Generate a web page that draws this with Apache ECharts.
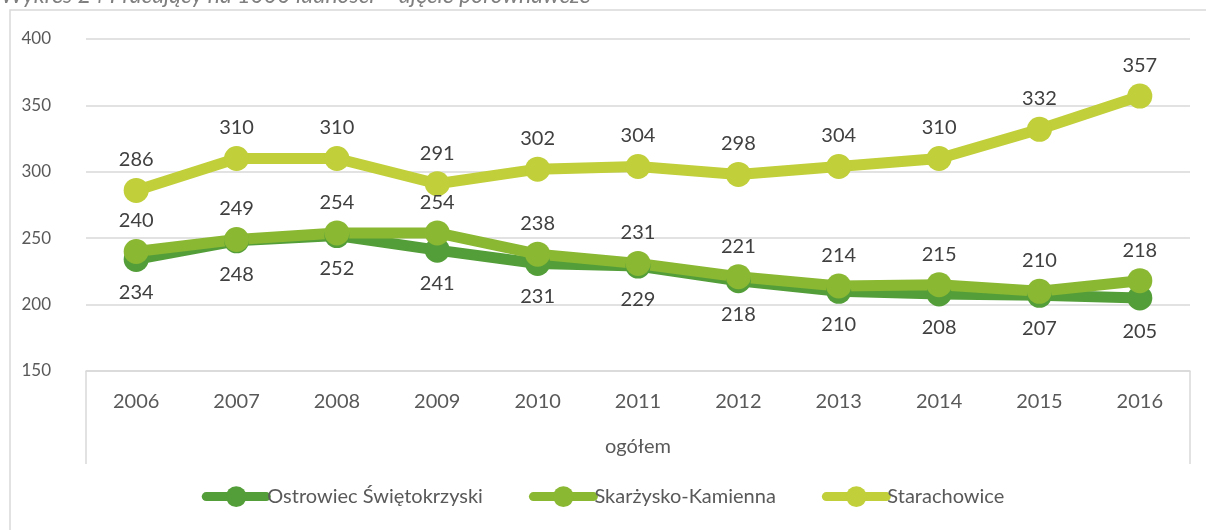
<!DOCTYPE html>
<html>
<head>
<meta charset="utf-8">
<script src="https://cdn.jsdelivr.net/npm/echarts@6/dist/echarts.min.js"></script>
<style>
  html, body { margin: 0; padding: 0; background: #fff; }
  #chart { width: 1206px; height: 530px; }
</style>
</head>
<body>
<div id="chart"></div>
<script>
const years = ['2006', '2007', '2008', '2009', '2010', '2011', '2012', '2013', '2014', '2015', '2016']
const groupLabel = ['ogółem']
const ostrowiec = [234, 248, 252, 241, 231, 229, 218, 210, 208, 207, 205]
const skarzysko = [240, 249, 254, 254, 238, 231, 221, 214, 215, 210, 218]
const starachowice = [286, 310, 310, 291, 302, 304, 298, 304, 310, 332, 357]

const font = 'Lato, "Open Sans", sans-serif'
const textColor = '#404040'
const gridColor = '#d9d9d9'

const makeSeries = (name, data, color, labelPos, dist) => ({
  name,
  type: 'line',
  data,
  xAxisIndex: 0,
  symbol: 'circle',
  symbolSize: 25,
  lineStyle: { width: 11, color, cap: 'round', join: 'round' },
  itemStyle: { color },
  label: {
    show: true,
    position: labelPos,
    distance: dist,
    color: textColor,
    fontFamily: font,
    fontSize: 20
  },
  emphasis: { disabled: true },
  animation: false
})

const chart = echarts.init(document.getElementById('chart'))
const option = {
  animation: false,
  graphic: [
    {
      type: 'rect',
      shape: { x: 10, y: 10, width: 1300, height: 600 },
      style: { fill: 'none', stroke: gridColor, lineWidth: 1.5 },
      silent: true
    },
    {
      type: 'text',
      left: 1,
      top: -16,
      style: {
        text: 'Wykres 24 Pracujący na 1000 ludności – ujęcie porównawcze',
        fill: '#7f7f7f',
        font: 'italic 23px ' + font
      },
      silent: true
    }
  ],
  grid: { left: 86, right: 16, top: 39, bottom: 159 },
  legend: {
    bottom: 18,
    left: 'center',
    itemWidth: 60,
    itemHeight: 26,
    itemGap: 46,
    lineStyle: { width: 9, cap: 'round' },
    textStyle: { color: '#595959', fontFamily: font, fontSize: 20, padding: [0, 0, 0, -4] },
    data: ['Ostrowiec Świętokrzyski', 'Skarżysko-Kamienna', 'Starachowice']
  },
  xAxis: [
    {
      type: 'category',
      data: years,
      position: 'bottom',
      axisLine: { lineStyle: { color: gridColor, width: 1.5 } },
      axisTick: { show: false },
      axisLabel: { color: '#595959', fontFamily: font, fontSize: 20, margin: 21 }
    },
    {
      type: 'category',
      data: groupLabel,
      position: 'bottom',
      axisLine: { show: false },
      axisTick: { show: true, length: 93, lineStyle: { color: gridColor, width: 1.5 } },
      axisLabel: { color: '#595959', fontFamily: font, fontSize: 20, margin: 66 }
    }
  ],
  yAxis: {
    type: 'value',
    min: 150,
    max: 400,
    interval: 50,
    axisLine: { show: false },
    axisTick: { show: false },
    splitLine: { lineStyle: { color: gridColor, width: 1.5 } },
    axisLabel: { color: '#595959', fontFamily: font, fontSize: 17, margin: 35 }
  },
  series: [
    makeSeries('Ostrowiec Świętokrzyski', ostrowiec, '#549e39', 'bottom', 11),
    makeSeries('Skarżysko-Kamienna', skarzysko, '#8ab833', 'top', 8),
    makeSeries('Starachowice', starachowice, '#c0cf3a', 'top', 8)
  ]
}
chart.setOption(option)
</script>
</body>
</html>
